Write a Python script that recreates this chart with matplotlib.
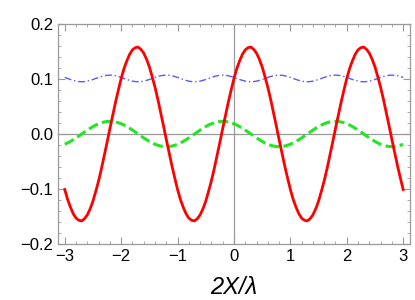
import numpy as np
import matplotlib.pyplot as plt

plt.rcParams['font.family'] = ['Liberation Sans', 'DejaVu Sans']

# x positions (2X/lambda), step 0.05 from -3 to 3
x = np.round(np.arange(-60, 61) / 20.0, 2)

# red solid curve
red = [-0.101, -0.119, -0.133, -0.145, -0.153, -0.157, -0.158, -0.154, -0.147, -0.136,
       -0.122, -0.104, -0.085, -0.063, -0.039, -0.015, 0.010, 0.034, 0.058, 0.080,
       0.101, 0.119, 0.133, 0.145, 0.153, 0.157, 0.158, 0.154, 0.147, 0.136,
       0.122, 0.104, 0.085, 0.063, 0.039, 0.015, -0.010, -0.034, -0.058, -0.080,
       -0.101, -0.119, -0.133, -0.145, -0.153, -0.157, -0.158, -0.154, -0.147, -0.136,
       -0.122, -0.104, -0.085, -0.063, -0.039, -0.015, 0.010, 0.034, 0.058, 0.080,
       0.101, 0.119, 0.133, 0.145, 0.153, 0.157, 0.158, 0.154, 0.147, 0.136,
       0.122, 0.104, 0.085, 0.063, 0.039, 0.015, -0.010, -0.034, -0.058, -0.080,
       -0.101, -0.119, -0.133, -0.145, -0.153, -0.157, -0.158, -0.154, -0.147, -0.136,
       -0.122, -0.104, -0.085, -0.063, -0.039, -0.015, 0.010, 0.034, 0.058, 0.080,
       0.101, 0.119, 0.133, 0.145, 0.153, 0.157, 0.158, 0.154, 0.147, 0.136,
       0.122, 0.104, 0.085, 0.063, 0.039, 0.015, -0.010, -0.034, -0.058, -0.080,
       -0.101]

# green dashed curve
green = [-0.0186, -0.0163, -0.0135, -0.0104, -0.0071, -0.0036, 0.0, 0.0036, 0.0071, 0.0104,
         0.0135, 0.0163, 0.0186, 0.0205, 0.0219, 0.0227, 0.0230, 0.0227, 0.0219, 0.0205,
         0.0186, 0.0163, 0.0135, 0.0104, 0.0071, 0.0036, 0.0, -0.0036, -0.0071, -0.0104,
         -0.0135, -0.0163, -0.0186, -0.0205, -0.0219, -0.0227, -0.0230, -0.0227, -0.0219, -0.0205,
         -0.0186, -0.0163, -0.0135, -0.0104, -0.0071, -0.0036, 0.0, 0.0036, 0.0071, 0.0104,
         0.0135, 0.0163, 0.0186, 0.0205, 0.0219, 0.0227, 0.0230, 0.0227, 0.0219, 0.0205,
         0.0186, 0.0163, 0.0135, 0.0104, 0.0071, 0.0036, 0.0, -0.0036, -0.0071, -0.0104,
         -0.0135, -0.0163, -0.0186, -0.0205, -0.0219, -0.0227, -0.0230, -0.0227, -0.0219, -0.0205,
         -0.0186, -0.0163, -0.0135, -0.0104, -0.0071, -0.0036, 0.0, 0.0036, 0.0071, 0.0104,
         0.0135, 0.0163, 0.0186, 0.0205, 0.0219, 0.0227, 0.0230, 0.0227, 0.0219, 0.0205,
         0.0186, 0.0163, 0.0135, 0.0104, 0.0071, 0.0036, 0.0, -0.0036, -0.0071, -0.0104,
         -0.0135, -0.0163, -0.0186, -0.0205, -0.0219, -0.0227, -0.0230, -0.0227, -0.0219, -0.0205,
         -0.0186]

# blue dash-dot curve
blue = [0.1029, 0.1010, 0.0991, 0.0975, 0.0961, 0.0953, 0.0950, 0.0953, 0.0961, 0.0975,
        0.0991, 0.1010, 0.1029, 0.1045, 0.1059, 0.1067, 0.1070, 0.1067, 0.1059, 0.1045,
        0.1029, 0.1010, 0.0991, 0.0975, 0.0961, 0.0953, 0.0950, 0.0953, 0.0961, 0.0975,
        0.0991, 0.1010, 0.1029, 0.1045, 0.1059, 0.1067, 0.1070, 0.1067, 0.1059, 0.1045,
        0.1029, 0.1010, 0.0991, 0.0975, 0.0961, 0.0953, 0.0950, 0.0953, 0.0961, 0.0975,
        0.0991, 0.1010, 0.1029, 0.1045, 0.1059, 0.1067, 0.1070, 0.1067, 0.1059, 0.1045,
        0.1029, 0.1010, 0.0991, 0.0975, 0.0961, 0.0953, 0.0950, 0.0953, 0.0961, 0.0975,
        0.0991, 0.1010, 0.1029, 0.1045, 0.1059, 0.1067, 0.1070, 0.1067, 0.1059, 0.1045,
        0.1029, 0.1010, 0.0991, 0.0975, 0.0961, 0.0953, 0.0950, 0.0953, 0.0961, 0.0975,
        0.0991, 0.1010, 0.1029, 0.1045, 0.1059, 0.1067, 0.1070, 0.1067, 0.1059, 0.1045,
        0.1029, 0.1010, 0.0991, 0.0975, 0.0961, 0.0953, 0.0950, 0.0953, 0.0961, 0.0975,
        0.0991, 0.1010, 0.1029, 0.1045, 0.1059, 0.1067, 0.1070, 0.1067, 0.1059, 0.1045,
        0.1029]

xticks = [-3, -2, -1, 0, 1, 2, 3]
yticks = [-0.2, -0.1, 0.0, 0.1, 0.2]
ytick_labels = ['\u22120.2', '\u22120.1', '0.0', '0.1', '0.2']
xtick_labels = ['\u22123', '\u22122', '\u22121', '0', '1', '2', '3']

fig = plt.figure(figsize=(4.15, 3.0), dpi=100)
ax = fig.add_axes([0.1398, 0.1867, 0.848, 0.7333])

ax.axhline(0, color='#999999', lw=0.9, zorder=1)
ax.axvline(0, color='#999999', lw=0.9, zorder=1)

ax.plot(x, blue, color='#5a5aff', lw=1.0, dashes=(5, 2, 1, 2), zorder=2)
ax.plot(x, green, color='#22e622', lw=2.2, dashes=(3.3, 1.4), zorder=3)
ax.plot(x, red, color='#ff0000', lw=2.0, zorder=4)

ax.set_xlim(-3.12, 3.12)
ax.set_ylim(-0.2, 0.2)
ax.set_xticks(xticks)
ax.set_xticklabels(xtick_labels)
ax.set_yticks(yticks)
ax.set_yticklabels(ytick_labels)
ax.set_xticks(np.arange(-3, 3.01, 0.2), minor=True)
ax.set_yticks(np.arange(-0.2, 0.201, 0.02), minor=True)

ax.tick_params(which='both', direction='in', top=True, right=True, color='#999999',
               labelsize=12, labelcolor='black')
ax.tick_params(which='major', length=5, width=0.8)
ax.tick_params(which='minor', length=2.5, width=0.6)
for s in ax.spines.values():
    s.set_color('#999999')
    s.set_linewidth(0.9)

ax.set_xlabel('2X/\u03bb', fontsize=17, style='italic', labelpad=9)

fig.savefig('out.png', dpi=100)
